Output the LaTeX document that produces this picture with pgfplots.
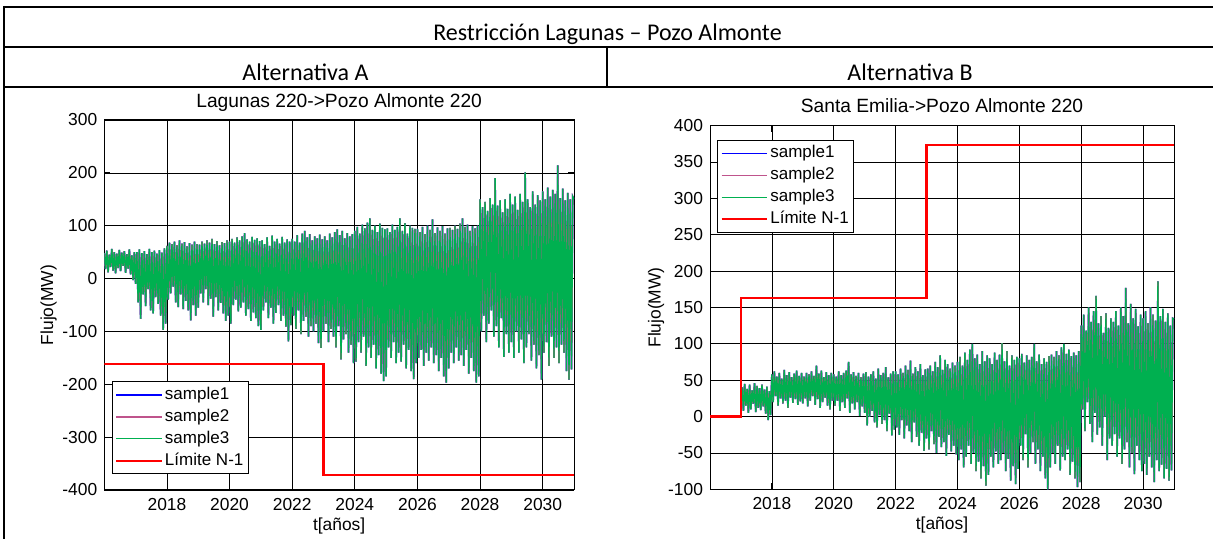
\documentclass[border=0pt]{standalone}
\usepackage{fontspec}
\setmainfont{Liberation Sans}
\newfontfamily\carlito{Carlito}
\usepackage{pgfplots}
\pgfplotsset{compat=1.18}
\usepackage{pgfplotstable}
\definecolor{sOne}{RGB}{0,0,255}
\definecolor{sTwo}{RGB}{191,84,140}
\definecolor{sThree}{RGB}{0,176,80}

\pgfplotstableread[row sep=\\]{
t y\\
2016.00 48\\ 2016.04 18\\ 2016.08 53\\ 2016.12 12\\ 2016.16 45\\ 2016.20 22\\ 2016.24 56\\ 2016.28 15\\ 2016.32 50\\ 2016.36 10\\ 2016.40 47\\ 2016.44 20\\ 2016.48 54\\ 2016.52 14\\ 2016.56 49\\ 2016.60 24\\ 2016.64 52\\ 2016.68 11\\ 2016.72 46\\ 2016.76 19\\ 2016.80 55\\ 2016.84 8\\ 2016.88 44\\ 2016.92 -3\\ 2016.96 50\\
2017.00 -10\\ 2017.04 50\\ 2017.08 -45\\ 2017.12 55\\ 2017.16 -76\\ 2017.20 48\\ 2017.24 -30\\ 2017.28 52\\ 2017.32 -52\\ 2017.36 46\\ 2017.40 -20\\ 2017.44 56\\ 2017.48 -60\\ 2017.52 50\\ 2017.56 -66\\ 2017.60 53\\ 2017.64 -35\\ 2017.68 47\\ 2017.72 -48\\ 2017.76 54\\ 2017.80 -70\\ 2017.84 49\\ 2017.88 -97\\ 2017.92 57\\ 2017.96 -85\\
2018.00 62\\ 2018.04 -40\\ 2018.08 68\\ 2018.12 -28\\ 2018.16 65\\ 2018.20 -15\\ 2018.24 70\\ 2018.28 -45\\ 2018.32 63\\ 2018.36 -54\\ 2018.40 72\\ 2018.44 -30\\ 2018.48 66\\ 2018.52 -58\\ 2018.56 69\\ 2018.60 -42\\ 2018.64 61\\ 2018.68 -60\\ 2018.72 67\\ 2018.76 -79\\ 2018.80 64\\ 2018.84 -50\\ 2018.88 70\\ 2018.92 -70\\ 2018.96 65\\
2019.00 -55\\ 2019.04 64\\ 2019.08 -28\\ 2019.12 70\\ 2019.16 -45\\ 2019.20 66\\ 2019.24 -20\\ 2019.28 72\\ 2019.32 -50\\ 2019.36 68\\ 2019.40 -38\\ 2019.44 75\\ 2019.48 -72\\ 2019.52 65\\ 2019.56 -35\\ 2019.60 71\\ 2019.64 -60\\ 2019.68 63\\ 2019.72 -46\\ 2019.76 69\\ 2019.80 -66\\ 2019.84 67\\ 2019.88 -80\\ 2019.92 72\\ 2019.96 -70\\
2020.00 70\\ 2020.04 -85\\ 2020.08 75\\ 2020.12 -50\\ 2020.16 68\\ 2020.20 -40\\ 2020.24 78\\ 2020.28 -62\\ 2020.32 72\\ 2020.36 -55\\ 2020.40 80\\ 2020.44 -45\\ 2020.48 86\\ 2020.52 -70\\ 2020.56 74\\ 2020.60 -58\\ 2020.64 70\\ 2020.68 -80\\ 2020.72 79\\ 2020.76 -64\\ 2020.80 73\\ 2020.84 -75\\ 2020.88 76\\ 2020.92 -90\\ 2020.96 71\\
2021.00 -97\\ 2021.04 72\\ 2021.08 -60\\ 2021.12 65\\ 2021.16 -45\\ 2021.20 78\\ 2021.24 -75\\ 2021.28 62\\ 2021.32 -55\\ 2021.36 81\\ 2021.40 -85\\ 2021.44 70\\ 2021.48 -65\\ 2021.52 75\\ 2021.56 -50\\ 2021.60 66\\ 2021.64 -80\\ 2021.68 79\\ 2021.72 -70\\ 2021.76 68\\ 2021.80 -91\\ 2021.84 74\\ 2021.88 -119\\ 2021.92 70\\ 2021.96 -88\\
2022.00 75\\ 2022.04 -70\\ 2022.08 70\\ 2022.12 -95\\ 2022.16 82\\ 2022.20 -60\\ 2022.24 68\\ 2022.28 -105\\ 2022.32 85\\ 2022.36 -80\\ 2022.40 90\\ 2022.44 -72\\ 2022.48 78\\ 2022.52 -110\\ 2022.56 84\\ 2022.60 -90\\ 2022.64 72\\ 2022.68 -100\\ 2022.72 80\\ 2022.76 -85\\ 2022.80 76\\ 2022.84 -122\\ 2022.88 83\\ 2022.92 -131\\ 2022.96 74\\
2023.00 -100\\ 2023.04 80\\ 2023.08 -85\\ 2023.12 72\\ 2023.16 -120\\ 2023.20 85\\ 2023.24 -95\\ 2023.28 78\\ 2023.32 -110\\ 2023.36 88\\ 2023.40 -130\\ 2023.44 93\\ 2023.48 -90\\ 2023.52 82\\ 2023.56 -153\\ 2023.60 90\\ 2023.64 -115\\ 2023.68 76\\ 2023.72 -105\\ 2023.76 86\\ 2023.80 -140\\ 2023.84 80\\ 2023.88 -125\\ 2023.92 84\\ 2023.96 -160\\
2024.00 90\\ 2024.04 -157\\ 2024.08 98\\ 2024.12 -120\\ 2024.16 85\\ 2024.20 -140\\ 2024.24 102\\ 2024.28 -110\\ 2024.32 95\\ 2024.36 -165\\ 2024.40 106\\ 2024.44 -130\\ 2024.48 114\\ 2024.52 -150\\ 2024.56 92\\ 2024.60 -125\\ 2024.64 100\\ 2024.68 -170\\ 2024.72 88\\ 2024.76 -145\\ 2024.80 104\\ 2024.84 -180\\ 2024.88 96\\ 2024.92 -194\\ 2024.96 93\\
2025.00 -185\\ 2025.04 95\\ 2025.08 -130\\ 2025.12 88\\ 2025.16 -150\\ 2025.20 102\\ 2025.24 -120\\ 2025.28 92\\ 2025.32 -160\\ 2025.36 98\\ 2025.40 -140\\ 2025.44 114\\ 2025.48 -157\\ 2025.52 90\\ 2025.56 -125\\ 2025.60 105\\ 2025.64 -170\\ 2025.68 85\\ 2025.72 -135\\ 2025.76 100\\ 2025.80 -175\\ 2025.84 96\\ 2025.88 -190\\ 2025.92 94\\ 2025.96 -160\\
2026.00 94\\ 2026.04 -150\\ 2026.08 88\\ 2026.12 -135\\ 2026.16 98\\ 2026.20 -165\\ 2026.24 84\\ 2026.28 -140\\ 2026.32 100\\ 2026.36 -155\\ 2026.40 92\\ 2026.44 -130\\ 2026.48 112\\ 2026.52 -160\\ 2026.56 86\\ 2026.60 -145\\ 2026.64 97\\ 2026.68 -175\\ 2026.72 90\\ 2026.76 -150\\ 2026.80 99\\ 2026.84 -185\\ 2026.88 85\\ 2026.92 -197\\ 2026.96 95\\
2027.00 -170\\ 2027.04 96\\ 2027.08 -140\\ 2027.12 92\\ 2027.16 -160\\ 2027.20 100\\ 2027.24 -130\\ 2027.28 94\\ 2027.32 -155\\ 2027.36 104\\ 2027.40 -145\\ 2027.44 114\\ 2027.48 -165\\ 2027.52 98\\ 2027.56 -135\\ 2027.60 102\\ 2027.64 -180\\ 2027.68 90\\ 2027.72 -150\\ 2027.76 99\\ 2027.80 -175\\ 2027.84 95\\ 2027.88 -197\\ 2027.92 100\\ 2027.96 -185\\
2028.00 150\\ 2028.04 -100\\ 2028.08 135\\ 2028.12 -70\\ 2028.16 145\\ 2028.20 -120\\ 2028.24 128\\ 2028.28 -85\\ 2028.32 152\\ 2028.36 -60\\ 2028.40 140\\ 2028.44 -110\\ 2028.48 190\\ 2028.52 -90\\ 2028.56 138\\ 2028.60 -130\\ 2028.64 148\\ 2028.68 -75\\ 2028.72 125\\ 2028.76 -148\\ 2028.80 150\\ 2028.84 -105\\ 2028.88 132\\ 2028.92 -140\\ 2028.96 160\\
2029.00 -120\\ 2029.04 140\\ 2029.08 -150\\ 2029.12 155\\ 2029.16 -100\\ 2029.20 130\\ 2029.24 -140\\ 2029.28 160\\ 2029.32 -115\\ 2029.36 145\\ 2029.40 -160\\ 2029.44 201\\ 2029.48 -130\\ 2029.52 150\\ 2029.56 -105\\ 2029.60 135\\ 2029.64 -155\\ 2029.68 165\\ 2029.72 -125\\ 2029.76 140\\ 2029.80 -170\\ 2029.84 158\\ 2029.88 -145\\ 2029.92 148\\ 2029.96 -191\\
2030.00 165\\ 2030.04 -140\\ 2030.08 150\\ 2030.12 -120\\ 2030.16 172\\ 2030.20 -165\\ 2030.24 155\\ 2030.28 -110\\ 2030.32 168\\ 2030.36 -150\\ 2030.40 160\\ 2030.44 -130\\ 2030.48 214\\ 2030.52 -160\\ 2030.56 152\\ 2030.60 -125\\ 2030.64 170\\ 2030.68 -140\\ 2030.72 148\\ 2030.76 -175\\ 2030.80 162\\ 2030.84 -191\\ 2030.88 150\\ 2030.92 -172\\ 2030.96 155\\
2031.00 150\\
}\dataA

\pgfplotstableread[row sep=\\]{
t y\\
2017.00 12\\ 2017.04 40\\ 2017.08 8\\ 2017.12 45\\ 2017.16 15\\ 2017.20 38\\ 2017.24 5\\ 2017.28 44\\ 2017.32 10\\ 2017.36 36\\ 2017.40 18\\ 2017.44 46\\ 2017.48 6\\ 2017.52 42\\ 2017.56 12\\ 2017.60 39\\ 2017.64 9\\ 2017.68 44\\ 2017.72 14\\ 2017.76 37\\ 2017.80 4\\ 2017.84 41\\ 2017.88 -5\\ 2017.92 35\\ 2017.96 2\\
2018.00 58\\ 2018.04 20\\ 2018.08 62\\ 2018.12 28\\ 2018.16 55\\ 2018.20 15\\ 2018.24 60\\ 2018.28 25\\ 2018.32 52\\ 2018.36 18\\ 2018.40 64\\ 2018.44 22\\ 2018.48 57\\ 2018.52 12\\ 2018.56 61\\ 2018.60 26\\ 2018.64 54\\ 2018.68 19\\ 2018.72 59\\ 2018.76 24\\ 2018.80 63\\ 2018.84 16\\ 2018.88 56\\ 2018.92 21\\ 2018.96 60\\
2019.00 18\\ 2019.04 55\\ 2019.08 25\\ 2019.12 60\\ 2019.16 14\\ 2019.20 58\\ 2019.24 22\\ 2019.28 62\\ 2019.32 28\\ 2019.36 56\\ 2019.40 16\\ 2019.44 70\\ 2019.48 24\\ 2019.52 59\\ 2019.56 12\\ 2019.60 63\\ 2019.64 20\\ 2019.68 54\\ 2019.72 26\\ 2019.76 61\\ 2019.80 15\\ 2019.84 57\\ 2019.88 10\\ 2019.92 60\\ 2019.96 22\\
2020.00 58\\ 2020.04 15\\ 2020.08 55\\ 2020.12 22\\ 2020.16 62\\ 2020.20 8\\ 2020.24 57\\ 2020.28 20\\ 2020.32 60\\ 2020.36 12\\ 2020.40 63\\ 2020.44 25\\ 2020.48 75\\ 2020.52 5\\ 2020.56 58\\ 2020.60 18\\ 2020.64 61\\ 2020.68 10\\ 2020.72 56\\ 2020.76 20\\ 2020.80 60\\ 2020.84 1\\ 2020.88 54\\ 2020.92 14\\ 2020.96 59\\
2021.00 5\\ 2021.04 61\\ 2021.08 -12\\ 2021.12 55\\ 2021.16 0\\ 2021.20 58\\ 2021.24 8\\ 2021.28 62\\ 2021.32 -8\\ 2021.36 52\\ 2021.40 -15\\ 2021.44 66\\ 2021.48 2\\ 2021.52 57\\ 2021.56 -10\\ 2021.60 60\\ 2021.64 -5\\ 2021.68 68\\ 2021.72 -20\\ 2021.76 54\\ 2021.80 4\\ 2021.84 59\\ 2021.88 -26\\ 2021.92 62\\ 2021.96 -18\\
2022.00 62\\ 2022.04 -15\\ 2022.08 58\\ 2022.12 -25\\ 2022.16 66\\ 2022.20 -5\\ 2022.24 60\\ 2022.28 -30\\ 2022.32 70\\ 2022.36 -12\\ 2022.40 64\\ 2022.44 -20\\ 2022.48 77\\ 2022.52 -35\\ 2022.56 59\\ 2022.60 -8\\ 2022.64 68\\ 2022.68 -28\\ 2022.72 62\\ 2022.76 -40\\ 2022.80 72\\ 2022.84 -22\\ 2022.88 57\\ 2022.92 -47\\ 2022.96 65\\
2023.00 -30\\ 2023.04 66\\ 2023.08 -45\\ 2023.12 70\\ 2023.16 -20\\ 2023.20 62\\ 2023.24 -38\\ 2023.28 75\\ 2023.32 -50\\ 2023.36 68\\ 2023.40 -28\\ 2023.44 84\\ 2023.48 -42\\ 2023.52 64\\ 2023.56 -35\\ 2023.60 78\\ 2023.64 -54\\ 2023.68 72\\ 2023.72 -25\\ 2023.76 66\\ 2023.80 -48\\ 2023.84 74\\ 2023.88 -40\\ 2023.92 70\\ 2023.96 -52\\
2024.00 75\\ 2024.04 -60\\ 2024.08 82\\ 2024.12 -45\\ 2024.16 70\\ 2024.20 -70\\ 2024.24 88\\ 2024.28 -55\\ 2024.32 78\\ 2024.36 -40\\ 2024.40 92\\ 2024.44 -65\\ 2024.48 100\\ 2024.52 -50\\ 2024.56 80\\ 2024.60 -75\\ 2024.64 85\\ 2024.68 -62\\ 2024.72 72\\ 2024.76 -85\\ 2024.80 90\\ 2024.84 -68\\ 2024.88 76\\ 2024.92 -95\\ 2024.96 84\\
2025.00 -80\\ 2025.04 80\\ 2025.08 -55\\ 2025.12 72\\ 2025.16 -70\\ 2025.20 88\\ 2025.24 -48\\ 2025.28 78\\ 2025.32 -65\\ 2025.36 85\\ 2025.40 -60\\ 2025.44 101\\ 2025.48 -50\\ 2025.52 76\\ 2025.56 -75\\ 2025.60 90\\ 2025.64 -58\\ 2025.68 70\\ 2025.72 -88\\ 2025.76 84\\ 2025.80 -68\\ 2025.84 78\\ 2025.88 -93\\ 2025.92 82\\ 2025.96 -72\\
2026.00 80\\ 2026.04 -40\\ 2026.08 86\\ 2026.12 -60\\ 2026.16 74\\ 2026.20 -24\\ 2026.24 84\\ 2026.28 -70\\ 2026.32 78\\ 2026.36 -50\\ 2026.40 82\\ 2026.44 -35\\ 2026.48 100\\ 2026.52 -65\\ 2026.56 76\\ 2026.60 -45\\ 2026.64 85\\ 2026.68 -75\\ 2026.72 72\\ 2026.76 -55\\ 2026.80 80\\ 2026.84 -85\\ 2026.88 75\\ 2026.92 -100\\ 2026.96 83\\
2027.00 -70\\ 2027.04 85\\ 2027.08 -50\\ 2027.12 82\\ 2027.16 -65\\ 2027.20 90\\ 2027.24 -40\\ 2027.28 84\\ 2027.32 -74\\ 2027.36 95\\ 2027.40 -55\\ 2027.44 100\\ 2027.48 -60\\ 2027.52 86\\ 2027.56 -45\\ 2027.60 92\\ 2027.64 -80\\ 2027.68 83\\ 2027.72 -62\\ 2027.76 88\\ 2027.80 -85\\ 2027.84 84\\ 2027.88 -97\\ 2027.92 90\\ 2027.96 -90\\
2028.00 125\\ 2028.04 10\\ 2028.08 140\\ 2028.12 -20\\ 2028.16 118\\ 2028.20 20\\ 2028.24 150\\ 2028.28 -10\\ 2028.32 130\\ 2028.36 -35\\ 2028.40 145\\ 2028.44 5\\ 2028.48 166\\ 2028.52 -25\\ 2028.56 128\\ 2028.60 -15\\ 2028.64 138\\ 2028.68 -40\\ 2028.72 115\\ 2028.76 0\\ 2028.80 142\\ 2028.84 -60\\ 2028.88 122\\ 2028.92 -30\\ 2028.96 135\\
2029.00 -40\\ 2029.04 130\\ 2029.08 -24\\ 2029.12 145\\ 2029.16 -55\\ 2029.20 125\\ 2029.24 -30\\ 2029.28 150\\ 2029.32 -65\\ 2029.36 138\\ 2029.40 -45\\ 2029.44 177\\ 2029.48 -35\\ 2029.52 128\\ 2029.56 -70\\ 2029.60 155\\ 2029.64 -50\\ 2029.68 135\\ 2029.72 -79\\ 2029.76 148\\ 2029.80 -40\\ 2029.84 124\\ 2029.88 -60\\ 2029.92 140\\ 2029.96 -75\\
2030.00 135\\ 2030.04 -65\\ 2030.08 145\\ 2030.12 -80\\ 2030.16 128\\ 2030.20 -55\\ 2030.24 150\\ 2030.28 -70\\ 2030.32 140\\ 2030.36 -90\\ 2030.40 132\\ 2030.44 -60\\ 2030.48 186\\ 2030.52 -75\\ 2030.56 138\\ 2030.60 -66\\ 2030.64 148\\ 2030.68 -85\\ 2030.72 130\\ 2030.76 -72\\ 2030.80 142\\ 2030.84 -88\\ 2030.88 125\\ 2030.92 -74\\ 2030.96 135\\
2031.00 134\\
}\dataB

\pgfplotsset{
  mstyle/.style={
    scale only axis,
    anchor=south west,
    xmin=2016, xmax=2031,
    xtick={2018,2020,...,2030},
    grid=major,
    major grid style={black, line width=0.35pt},
    axis line style={black, line width=0.5pt},
    tick style={black, line width=0.4pt},
    tick align=inside,
    major tick length=3pt,
    /pgf/number format/1000 sep={},
    /pgf/number format/assume math mode=true,
    tick label style={font=\fontsize{8.7}{10}\selectfont},
    label style={font=\fontsize{8.7}{10}\selectfont},
    title style={font=\fontsize{9.6}{11}\selectfont, at={(0.5,1)}, anchor=base},
    xlabel={t[años]},
    ylabel={Flujo(MW)},
    xlabel style={at={(axis description cs:0.5,0)}, anchor=center, yshift=-18pt},
    xticklabel style={yshift=-0.7pt},
    legend cell align=left,
    legend image code/.code={\draw[##1] (0pt,0pt) -- (22.8pt,0pt);},
    legend style={draw=black, line width=0.6pt, fill=white,
      font=\fontsize{8.5}{10}\selectfont, anchor=north west,
      inner xsep=1.5pt, inner ysep=1pt, row sep=0pt,
      nodes={text height=6.2pt, text depth=1.8pt, inner ysep=1.5pt, inner xsep=1pt}},
  }
}

\begin{document}
\begin{tikzpicture}
\useasboundingbox (0,0) rectangle (606.5pt,269.5pt);
% table frame
\draw[line width=1.3pt] (1.5pt,266pt) -- (606.5pt,266pt);
\draw[line width=1pt] (1.5pt,246pt) -- (606.5pt,246pt);
\draw[line width=1pt] (1.5pt,226pt) -- (606.5pt,226pt);
\draw[line width=1pt] (2pt,266.6pt) -- (2pt,0pt);
\draw[line width=1pt] (303.5pt,246pt) -- (303.5pt,226pt);
\node[anchor=base, font=\carlito\fontsize{12}{14}\selectfont, inner sep=0pt] at (303.75pt,249.3pt) {Restricción Lagunas – Pozo Almonte};
\node[anchor=base, font=\carlito\fontsize{12}{14}\selectfont, inner sep=0pt] at (152.75pt,229pt) {Alternativa A};
\node[anchor=base, font=\carlito\fontsize{12}{14}\selectfont, inner sep=0pt] at (455pt,229pt) {Alternativa B};

\begin{axis}[mstyle,
  at={(52.15pt,24.5pt)},
  width=234.85pt, height=185pt,
  ymin=-400, ymax=300,
  ytick={-400,-300,...,300},
  title={Lagunas 220->Pozo Almonte 220},
  title style={yshift=0pt},
  ylabel style={at={(axis description cs:-0.1186,0.5)}, anchor=center},
  legend style={at={(0.0155,0.294)}},
]
\addplot[sOne, line width=0.8pt] table[x=t,y=y]{\dataA};
\addlegendentry{sample1}
\addplot[sTwo, line width=0.8pt] table[x=t,y=y]{\dataA};
\addlegendentry{sample2}
\addplot[sThree, line width=0.65pt] table[x=t,y=y]{\dataA};
\addlegendentry{sample3}
\addplot[red, line width=1.1pt] coordinates {(2016,-161) (2023,-161) (2023,-371) (2031,-371)};
\addlegendentry{Límite N-1}
\end{axis}

\begin{axis}[mstyle,
  at={(355pt,24.85pt)},
  width=232pt, height=181.85pt,
  ymin=-100, ymax=400,
  ytick={-100,-50,...,400},
  title={Santa Emilia->Pozo Almonte 220},
  title style={yshift=0.75pt},
  ylabel style={at={(axis description cs:-0.1164,0.5)}, anchor=center},
  legend style={at={(0.015,0.961)}},
]
\addplot[sOne, line width=0.8pt] table[x=t,y=y]{\dataB};
\addlegendentry{sample1}
\addplot[sTwo, line width=0.8pt] table[x=t,y=y]{\dataB};
\addlegendentry{sample2}
\addplot[sThree, line width=0.65pt] table[x=t,y=y]{\dataB};
\addlegendentry{sample3}
\addplot[red, line width=1.1pt] coordinates {(2016,0) (2017,0) (2017,163) (2023,163) (2023,373) (2031,373)};
\addlegendentry{Límite N-1}
\end{axis}
\end{tikzpicture}
\end{document}
